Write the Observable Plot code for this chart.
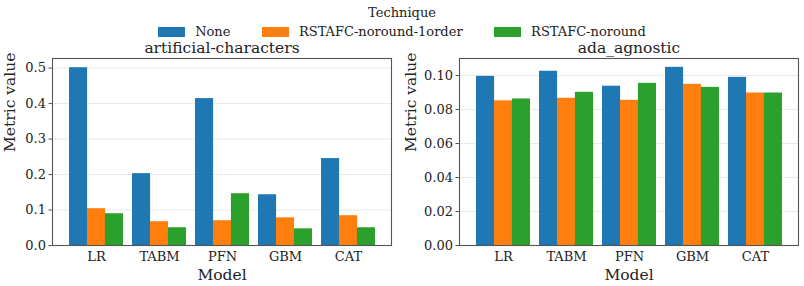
<!DOCTYPE html>
<html>
<head>
<meta charset="utf-8">
<script src="https://cdn.jsdelivr.net/npm/d3@7"></script>
<script src="https://cdn.jsdelivr.net/npm/@observablehq/plot@0.6"></script>
<style>
  body { margin: 0; background: #fff; font-family: "DejaVu Serif", serif; }
  #fig { position: relative; width: 804px; height: 286px; overflow: hidden; background: #fff; }
  .panel { position: absolute; top: 0; }
  .panel text { font-family: "DejaVu Serif", serif; }
  #legend { position: absolute; left: 0; top: 0; width: 804px; z-index: 2; color: #222; font-size: 13px; }
  #legend .title { position: absolute; left: 0; width: 804px; top: 5px; text-align: center; }
  #legend .row { position: absolute; left: 0; width: 804px; top: 24px; display: flex; justify-content: center; align-items: center; }
  #legend .item { display: flex; align-items: center; margin: 0 15.75px; }
  #legend .sw { width: 27px; height: 10px; margin-right: 10px; }
</style>
</head>
<body>
<div id="fig"></div>
<script>
// Models on the x axis and the three techniques compared within each model
const models = ["LR", "TABM", "PFN", "GBM", "CAT"];
const techniques = ["None", "RSTAFC-noround-1order", "RSTAFC-noround"];
const colors = ["#1f77b4", "#ff7f0e", "#2ca02c"];

// artificial-characters: metric value per model, one array per technique
const artNone = [0.501, 0.2025, 0.414, 0.143, 0.245];
const artRound1 = [0.1037, 0.067, 0.0698, 0.078, 0.084];
const artNoround = [0.0895, 0.050, 0.146, 0.047, 0.050];

// ada_agnostic: metric value per model, one array per technique
const adaNone = [0.0995, 0.1025, 0.0937, 0.1048, 0.0989];
const adaRound1 = [0.0851, 0.0866, 0.0854, 0.0948, 0.0897];
const adaNoround = [0.0862, 0.0901, 0.0954, 0.0930, 0.0897];

// y tick values for each panel
const artTicks = [0, 0.1, 0.2, 0.3, 0.4, 0.5];
const adaTicks = [0, 0.02, 0.04, 0.06, 0.08, 0.10];

const fig = document.getElementById("fig");

function panel({title, series, yMax, yTicks, yFormat, left, width, marginLeft, marginRight, ylabelDx}) {
  const height = 286, marginTop = 58, marginBottom = 41;
  const paddingInner = 0.15, paddingOuter = 0.25;
  const n = techniques.length;
  // width of one band on the x scale, split evenly between the techniques
  const step = (width - marginLeft - marginRight) / (models.length - paddingInner + 2 * paddingOuter);
  const slot = step * (1 - paddingInner) / n;

  const rows = techniques.map((t, k) => models.map((m, i) => ({model: m, technique: t, value: series[k][i]})));

  const chart = Plot.plot({
    width, height, marginTop, marginBottom, marginLeft, marginRight,
    style: {fontFamily: "DejaVu Serif", fontSize: "13px", background: "transparent", color: "#222"},
    x: {domain: models, paddingInner, paddingOuter, axis: null},
    y: {domain: [0, yMax], axis: null},
    color: {domain: techniques, range: colors},
    marks: [
      Plot.gridY(yTicks, {stroke: "#e9e9e9", strokeOpacity: 1, strokeWidth: 1}),
      ...rows.map((data, k) => Plot.barY(data, {
        x: "model", y: "value",
        // "None" is also a CSS colour keyword, so bind the channel to the color scale explicitly
        fill: {value: "technique", scale: "color"},
        insetLeft: k * slot, insetRight: (n - 1 - k) * slot
      })),
      Plot.frame({stroke: "#555", strokeWidth: 1.1}),
      Plot.axisY(yTicks, {tickFormat: d3.format(yFormat), tickSize: 3.5, tickPadding: 3, stroke: "#555", fill: "#222", label: null}),
      Plot.axisX({tickSize: 0, tickPadding: 6, fill: "#222", label: null}),
      Plot.text([title], {frameAnchor: "top", lineAnchor: "middle", dy: -10, fontSize: 15.5, fill: "#222"}),
      Plot.text(["Model"], {frameAnchor: "bottom", lineAnchor: "middle", dy: 30, fontSize: 15.5, fill: "#222"}),
      Plot.text(["Metric value"], {frameAnchor: "left", lineAnchor: "middle", dx: ylabelDx, rotate: -90, fontSize: 15.5, fill: "#222"})
    ]
  });
  chart.classList.add("panel");
  chart.style.left = left + "px";
  fig.appendChild(chart);
}

panel({
  title: "artificial-characters",
  series: [artNone, artRound1, artNoround],
  yMax: 0.527, yTicks: artTicks, yFormat: ".1f",
  left: 0, width: 402, marginLeft: 52, marginRight: 11, ylabelDx: -42
});

panel({
  title: "ada_agnostic",
  series: [adaNone, adaRound1, adaNoround],
  yMax: 0.110, yTicks: adaTicks, yFormat: ".2f",
  left: 402, width: 402, marginLeft: 57, marginRight: 6, ylabelDx: -48
});

// Shared legend above both panels
const legend = document.createElement("div");
legend.id = "legend";
const lt = document.createElement("div");
lt.className = "title";
lt.textContent = "Technique";
legend.appendChild(lt);
const row = document.createElement("div");
row.className = "row";
techniques.forEach((t, k) => {
  const item = document.createElement("div");
  item.className = "item";
  const sw = document.createElement("div");
  sw.className = "sw";
  sw.style.background = colors[k];
  const label = document.createElement("span");
  label.textContent = t;
  item.appendChild(sw);
  item.appendChild(label);
  row.appendChild(item);
});
legend.appendChild(row);
fig.appendChild(legend);
</script>
</body>
</html>
